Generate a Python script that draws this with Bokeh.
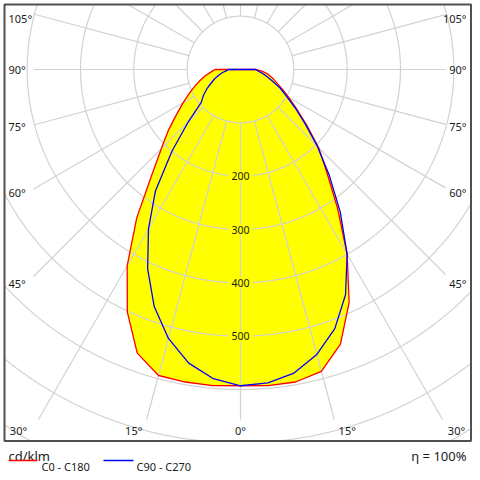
import numpy as np
from bokeh.plotting import figure
from bokeh.models import Range1d
from bokeh.embed import file_html
from bokeh.resources import INLINE
from bokeh.core.properties import value

# ---------------- data (cd/klm) ----------------
gamma = [0, 5, 10, 15, 20, 25, 30, 35, 40, 45, 50, 55, 60, 65, 70, 75, 80, 85, 90]
c0 = [593, 595, 595, 586, 548, 482, 400, 317, 252, 207, 162, 128, 104, 86, 72, 62, 53, 42, 28]
c180 = [593, 595, 595, 594, 566, 502, 425, 339, 259, 210, 176, 146, 124, 106, 91, 78, 67, 56, 48]
c90 = [593, 590, 578, 553, 517, 466, 400, 326, 259, 204, 158, 125, 99, 82, 64, 52, 42, 33, 28]
c270 = [593, 582, 559, 522, 473, 412, 345, 278, 200, 138, 96, 85, 73, 61, 52, 43, 35, 26, 24]

ring_values = [100, 200, 300, 400, 500, 600, 700, 800]
ring_labels = ["200", "300", "400", "500"]
angle_ticks = [0, 15, 30, 45, 60, 75, 90, 105]
unit_text = "cd/klm"
eta_text = "\u03b7 = 100%"
legend_names = ["C0 - C180", "C90 - C270"]

FONT = "Noto Sans"
GRID = "#d2d2d2"
TXT = "#1a1a1a"
W = H = 472
K = 1.875          # data units per pixel (100 cd/klm = 53.3 px)
CX, CY = 240, 69   # pole position in pixels


def px(X, Y):
    """layout helper: pixel position -> data coordinates"""
    return (X - CX) * K, -(Y - CY) * K


def curve(left, right):
    g = np.radians(gamma)
    l = np.array(left, float)
    r = np.array(right, float)
    xl, yl = -l * np.sin(g), -l * np.cos(g)
    xr, yr = r * np.sin(g), -r * np.cos(g)
    return np.concatenate([xl[::-1], xr]), np.concatenate([yl[::-1], yr])


x0, y1 = px(0, 0)
x1, y0 = px(W, H)
p = figure(width=W, height=H, x_range=Range1d(x0, x1), y_range=Range1d(y0, y1),
           output_backend="svg", toolbar_location=None,
           x_axis_location=None, y_axis_location=None, min_border=0,
           outline_line_color=None,
           background_fill_color="white", border_fill_color="white")
p.grid.visible = False

# diagram box
bl, bt = px(4, 4)
br, bb = px(470.5, 440.5)

red_x, red_y = curve(c180, c0)
blue_x, blue_y = curve(c270, c90)

# fills
p.patch(red_x, red_y, fill_color="#ffff00", line_color=None)
p.patch(blue_x, blue_y, fill_color="#ffff00", line_color=None)

# rings clipped to the diagram box
th = np.linspace(0, 2 * np.pi, 4001)
ring_xs, ring_ys = [], []
for r in ring_values:
    xs = r * np.sin(th)
    ys = -r * np.cos(th)
    inside = (xs >= bl) & (xs <= br) & (ys >= bb) & (ys <= bt)
    ring_xs.append(np.where(inside, xs, np.nan))
    ring_ys.append(np.where(inside, ys, np.nan))
p.multi_line(ring_xs, ring_ys, line_color=GRID, line_width=1.2)

# radial lines from ring 100 to an inner box
xl_b, _ = px(33, 0)
xr_b, _ = px(445, 0)
_, yb_b = px(0, 419)
yt_b = bt
sx0, sy0, sx1, sy1 = [], [], [], []
for a in range(0, 360, 15):
    t = np.radians(a)
    dx, dy = np.sin(t), -np.cos(t)
    ts = []
    if dx > 1e-9: ts.append(xr_b / dx)
    if dx < -1e-9: ts.append(xl_b / dx)
    if dy < -1e-9: ts.append(yb_b / dy)
    if dy > 1e-9: ts.append(yt_b / dy)
    tm = min(ts)
    sx0.append(100 * dx); sy0.append(100 * dy)
    sx1.append(tm * dx); sy1.append(tm * dy)
p.segment(sx0, sy0, sx1, sy1, line_color=GRID, line_width=1.2)

# ring labels with yellow background
lab_y = [-float(s) for s in ring_labels]
p.rect(x=[0] * len(lab_y), y=lab_y, width=24 * K, height=11 * K,
       fill_color="#ffff00", line_color=None)
p.text(x=[0] * len(lab_y), y=lab_y, text=ring_labels, text_align="center",
       text_baseline="middle", text_font=value(FONT), text_font_size="10.5px",
       text_color=TXT)

# angle labels
side_l = dict(x=[], y=[], t=[])
side_r = dict(x=[], y=[], t=[])
bot = dict(x=[], y=[], t=[])
lx, _ = px(8, 0)
rx, _ = px(466, 0)
for a in angle_ticks:
    txt = f"{a}\u00b0"
    if a >= 45:
        ypx = CY + 220 * np.tan(np.radians(90 - a)) - 2 * (90 - a) / 15
        ypx = max(ypx, 18)
        _, yd = px(0, ypx)
        side_l["x"].append(lx); side_l["y"].append(yd); side_l["t"].append(txt)
        side_r["x"].append(rx); side_r["y"].append(yd); side_r["t"].append(txt)
    else:
        off = 361 * np.tan(np.radians(a)) + 10 * a / 15
        _, yd = px(0, 430)
        bot["x"].append(-min(off, CX - 18) * K); bot["y"].append(yd); bot["t"].append(txt)
        if a != 0:
            bot["x"].append(min(off, 456 - CX) * K); bot["y"].append(yd); bot["t"].append(txt)

common = dict(text_baseline="middle", text_font=value(FONT), text_font_size="11px",
              text_color=TXT)
p.text(x=side_l["x"], y=side_l["y"], text=side_l["t"], text_align="left", **common)
p.text(x=side_r["x"], y=side_r["y"], text=side_r["t"], text_align="right", **common)
p.text(x=bot["x"], y=bot["y"], text=bot["t"], text_align="center", **common)

# curves
p.line(np.append(red_x, red_x[0]), np.append(red_y, red_y[0]), line_color="#ff0000", line_width=1.3)
p.line(np.append(blue_x, blue_x[0]), np.append(blue_y, blue_y[0]), line_color="#0000ff", line_width=1.3)

# frame
p.quad(left=[bl], right=[br], top=[bt], bottom=[bb], fill_color=None,
       line_color="#505050", line_width=2)

# ---------------- legend ----------------
ux, uy = px(8, 455)
ex, ey = px(466, 455)
p.text(x=[ux], y=[uy], text=[unit_text], text_align="left", text_baseline="alphabetic",
       text_font=value(FONT), text_font_size="13px", text_color=TXT)
p.text(x=[ex], y=[ey], text=[eta_text], text_align="right", text_baseline="alphabetic",
       text_font=value(FONT), text_font_size="13px", text_color=TXT)
a0, ly = px(8, 460)
a1, _ = px(37, 460)
b0, _ = px(103, 460)
b1, _ = px(133, 460)
p.line([a0, a1], [ly, ly], line_color="#ff0000", line_width=1.3)
p.line([b0, b1], [ly, ly], line_color="#0000ff", line_width=1.3)
t0, ty = px(41, 465.5)
t1, _ = px(136, 465.5)
p.text(x=[t0, t1], y=[ty, ty], text=legend_names, text_align="left", text_baseline="alphabetic",
       text_font=value(FONT), text_font_size="11px", text_color=TXT)

open("out.html", "w").write(file_html(p, INLINE))
